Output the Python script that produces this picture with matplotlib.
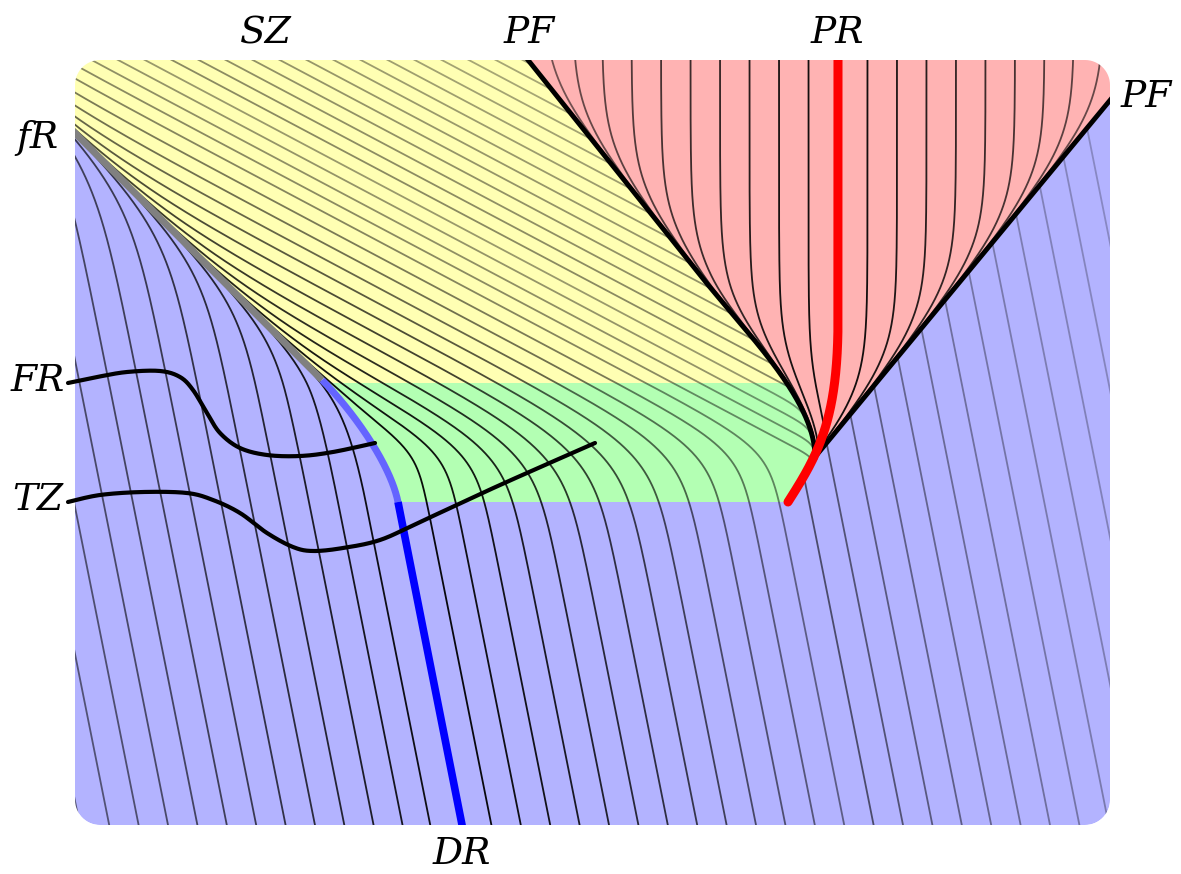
import numpy as np
import matplotlib
matplotlib.use("Agg")
import matplotlib.pyplot as plt
from matplotlib.patches import Polygon, PathPatch
from matplotlib.path import Path

# canvas is laid out in pixel units, y pointing down
W_PX, H_PX = 1181, 874
BOX = (75, 60, 1110, 825)          # left, top, right, bottom of the rounded panel
BOX_RADIUS = 25

# separatrix fR -> DR
FR_SEG = [(60, 118), (322, 380)]
DR_BEND = [(322, 380), (350, 408), (390, 462), (398, 502)]
DR_SEG = [(398, 502), (466, 845)]

# PF (left branch bends into the cusp) and right branch
PF_SEG = [(528, 60), (700, 275)]
PF_BEND = [(700, 275), (748, 335), (815, 400), (815, 457)]
PF_RIGHT = [(815, 457), (1140, 64)]

# PR curve
PR_SEG = [(838, 40), (838, 320)]
PR_BEND = [(838, 320), (838, 420), (818, 455), (788, 502)]

GREEN_Y = (383, 502)

FR_CURVE = [(68, 383), (97, 377), (127, 372), (160, 371), (180, 377), (193, 390),
            (207, 413), (220, 433), (240, 448), (267, 455), (300, 456), (333, 452),
            (375, 443)]
TZ_CURVE = [(68, 502), (100, 495), (143, 492), (187, 493), (213, 500), (240, 513),
            (267, 533), (293, 547), (313, 551), (343, 548), (380, 540), (420, 522),
            (500, 485), (595, 443)]

LABELS = [("SZ", 266, 33), ("PF", 529, 33), ("PR", 837, 33), ("PF", 1146, 97),
          ("fR", 37, 138), ("FR", 38, 381), ("TZ", 38, 500), ("DR", 462, 854)]

# characteristic lines
DRIFT = 0.2                 # dx/dy of the straight lower lines
YELLOW_DXDY = 1 / 0.53      # dx/dy of the lines in SZ
SOFT_SEP = 26
SOFT_RED = 22

LEFT_BOTTOM = [432.6, 403.2, 373.8, 344.4, 315.0, 285.6, 256.2, 226.8, 197.4, 168.0,
               138.6, 109.2, 79.8]
LEFT_ALPHA = [0.92, 0.88, 0.84, 0.8, 0.76, 0.72, 0.68, 0.65, 0.62, 0.59, 0.56, 0.54, 0.52]
LEFT_ROUND = [16, 18, 20, 22, 24, 26, 28, 30, 30, 30, 30, 30, 30]

TURN_BOTTOM = [491.4, 520.8, 550.2, 579.6, 609.0, 638.4, 667.8, 697.2, 726.6, 756.0,
               785.4, 814.8, 844.2]
TURN_Y = [448, 448, 448, 448, 448, 448, 448, 448, 448, 448, 448, 448, 448]
TURN_ROUND = [20, 25, 30, 35, 38, 40, 40, 40, 38, 35, 32, 28, 25]
TURN_ALPHA = [0.95, 0.92, 0.9, 0.86, 0.82, 0.78, 0.74, 0.7, 0.65, 0.6, 0.56, 0.52, 0.48]

HUG_X385 = [677, 704, 731, 758]
HUG_ALPHA = [0.46, 0.44, 0.42, 0.4]

TOP_X385 = [785, 812, 839, 866, 893, 920, 947, 974, 1001, 1028, 1055, 1082, 1109, 1136]
TOP_ALPHA = [0.46, 0.45, 0.44, 0.43, 0.42, 0.41, 0.4, 0.39, 0.38, 0.37, 0.36, 0.35, 0.35, 0.35]

RIGHT_BOTTOM = [873.6, 903.0, 932.4, 961.8, 991.2, 1020.6, 1050.0, 1079.4, 1108.8,
                1138.2, 1167.6, 1197.0, 1226.4, 1255.8]
RIGHT_ALPHA = [0.58, 0.54, 0.5, 0.47, 0.44, 0.41, 0.38, 0.35, 0.32, 0.3, 0.28, 0.26,
               0.24, 0.22]

RED_LEFT = [543.0, 572.5, 602.0, 631.5, 661.0, 690.5, 720.0, 749.5, 779.0, 808.5]
RED_LEFT_ALPHA = [0.55, 0.6, 0.64, 0.68, 0.72, 0.76, 0.8, 0.85, 0.9, 0.92]
RED_RIGHT = [867.5, 897.0, 926.5, 956.0, 985.5, 1015.0, 1044.5, 1074.0, 1103.5]
RED_RIGHT_ALPHA = [0.92, 0.88, 0.84, 0.8, 0.76, 0.72, 0.68, 0.64, 0.6]

YELLOW = "#ffffb3"
GREEN = "#b3ffb3"
RED = "#ffb3b3"
BLUE = "#b3b3ff"


def cubic(p, n=200):
    p = np.asarray(p, float)
    t = np.linspace(0, 1, n)[:, None]
    return (1 - t) ** 3 * p[0] + 3 * (1 - t) ** 2 * t * p[1] + 3 * (1 - t) * t ** 2 * p[2] + t ** 3 * p[3]


def segment(a, b, n=100):
    t = np.linspace(0, 1, n)[:, None]
    return (1 - t) * np.asarray(a, float) + t * np.asarray(b, float)


def catmull(pts, n=24):
    p = np.asarray(pts, float)
    p = np.vstack([p[0], p, p[-1]])
    out = []
    t = np.linspace(0, 1, n, endpoint=False)[:, None]
    for i in range(1, len(p) - 2):
        p0, p1, p2, p3 = p[i - 1], p[i], p[i + 1], p[i + 2]
        out.append(0.5 * (2 * p1 + (-p0 + p2) * t + (2 * p0 - 5 * p1 + 4 * p2 - p3) * t ** 2
                          + (-p0 + 3 * p1 - 3 * p2 + p3) * t ** 3))
    out.append(p[-2][None])
    return np.vstack(out)


def softmin(a, b, r):
    return -r * np.logaddexp(-a / r, -b / r)


def softmax(a, b, r):
    return r * np.logaddexp(a / r, b / r)


def rounded_rect(x0, y0, x1, y1, r, n=16):
    pts = []
    for cx, cy, a0 in [(x0 + r, y0 + r, 180), (x1 - r, y0 + r, 270),
                       (x1 - r, y1 - r, 0), (x0 + r, y1 - r, 90)]:
        a = np.radians(np.linspace(a0, a0 + 90, n))
        pts += list(zip(cx + r * np.cos(a), cy + r * np.sin(a)))
    return np.array(pts)


y = np.linspace(0, H_PX, 1749)

# separatrix S(y)
fr_y = np.linspace(0, 380, 200)
sep = np.vstack([np.column_stack([fr_y - 58, fr_y]), cubic(DR_BEND)[1:],
                 segment(DR_SEG[0], (398 + 64 / 323 * (H_PX - 502), H_PX))[1:]])
S = np.interp(y, sep[:, 1], sep[:, 0])

# left PF branch PFL(y)
pf_y = np.linspace(0, 275, 200)
pfl = np.vstack([np.column_stack([528 + 0.8 * (pf_y - 60), pf_y]), cubic(PF_BEND)[1:],
                 segment((815, 457), (815, H_PX))[1:]])
PFL = np.interp(y, pfl[:, 1], pfl[:, 0])
pfr_slope = (PF_RIGHT[1][0] - PF_RIGHT[0][0]) / (PF_RIGHT[1][1] - PF_RIGHT[0][1])
PFR = 815 + (y - 457) * pfr_slope

pr = np.vstack([segment(*PR_SEG), cubic(PR_BEND)[1:]])
WALL = np.where(y <= 457, PFL, np.interp(y, pr[:, 1], pr[:, 0]))

fig = plt.figure(figsize=(W_PX / 100, H_PX / 100), dpi=100)
ax = fig.add_axes([0, 0, 1, 1])
ax.set_xlim(0, W_PX)
ax.set_ylim(H_PX, 0)
ax.axis("off")

box = rounded_rect(*BOX, BOX_RADIUS)
ax.add_patch(Polygon(box, closed=True, facecolor=BLUE, edgecolor="none", zorder=1))

# regions
top_cut = y <= GREEN_Y[0]
yellow_poly = np.vstack([np.column_stack([S[top_cut], y[top_cut]]),
                         np.column_stack([PFL[top_cut][::-1], y[top_cut][::-1]])])
ax.add_patch(Polygon(yellow_poly, closed=True, facecolor=YELLOW, edgecolor="none", zorder=1.1))

g_band = (y >= GREEN_Y[0]) & (y <= GREEN_Y[1])
green_poly = np.vstack([np.column_stack([S[g_band], y[g_band]]),
                        np.column_stack([WALL[g_band][::-1], y[g_band][::-1]])])
ax.add_patch(Polygon(green_poly, closed=True, facecolor=GREEN, edgecolor="none", zorder=1.1))

r_band = y <= 457
red_poly = np.vstack([np.column_stack([PFL[r_band], y[r_band]]),
                      np.column_stack([PFR[r_band][::-1], y[r_band][::-1]])])
red_patch = Polygon(red_poly, closed=True, facecolor=RED, edgecolor="none", zorder=1.1)
ax.add_patch(red_patch)

LW = 1.3
# left of DR
for xb, a, r in zip(LEFT_BOTTOM, LEFT_ALPHA, LEFT_ROUND):
    F = xb - DRIFT * (825 - y)
    ax.plot(softmin(S, F, r), y, color="k", alpha=a, lw=LW, zorder=3)

# lines through SZ that turn in the green zone
for xb, yk, r, a in zip(TURN_BOTTOM, TURN_Y, TURN_ROUND, TURN_ALPHA):
    F = xb - DRIFT * (825 - y)
    xk = xb - DRIFT * (825 - yk)
    A = xk + (y - yk) * YELLOW_DXDY
    x = softmin(softmax(S, A, SOFT_SEP), F, r)
    ax.plot(x, y, color="k", alpha=a, lw=LW, zorder=3)

# lines squeezed against PF
for x385, a in zip(HUG_X385, HUG_ALPHA):
    A = x385 + (y - 385) * YELLOW_DXDY
    x = softmin(softmax(S, A, SOFT_SEP), WALL, 6)
    keep = y <= GREEN_Y[1]
    ax.plot(x[keep], y[keep], color="k", alpha=a, lw=LW, zorder=3)

# lines ending on PF
for x385, a in zip(TOP_X385, TOP_ALPHA):
    x = softmax(S, x385 + (y - 385) * YELLOW_DXDY, SOFT_SEP)
    bad = x > PFL
    end = np.argmax(bad) if bad.any() else len(y)
    ax.plot(x[:end], y[:end], color="k", alpha=a, lw=LW, zorder=3)

# lines leaving the right PF branch
for xb, a in zip(RIGHT_BOTTOM, RIGHT_ALPHA):
    x = xb - DRIFT * (825 - y)
    start = np.argmax(x >= PFR)
    ax.plot(x[start:], y[start:], color="k", alpha=a, lw=LW, zorder=3)

# PR fan
for xk, a in zip(RED_LEFT, RED_LEFT_ALPHA):
    ln, = ax.plot(softmax(np.full_like(y, xk), PFL, SOFT_RED), y, color="k", alpha=a,
                  lw=LW, zorder=3)
    ln.set_clip_path(red_patch)
for xk, a in zip(RED_RIGHT, RED_RIGHT_ALPHA):
    ln, = ax.plot(softmin(np.full_like(y, xk), PFR, SOFT_RED), y, color="k", alpha=a,
                  lw=LW, zorder=3)
    ln.set_clip_path(red_patch)

# heavy curves
pf_draw = y <= 457
ax.plot(PFL[pf_draw], y[pf_draw], color="k", lw=3.5, zorder=4)
ax.plot([p[0] for p in PF_RIGHT], [p[1] for p in PF_RIGHT], color="k", lw=3.5, zorder=4)
ax.plot([p[0] for p in FR_SEG], [p[1] for p in FR_SEG], color="#808080", lw=5, zorder=5,
        solid_capstyle="butt")
bend = cubic(DR_BEND)
ax.plot(bend[:, 0], bend[:, 1], color="#6464ff", lw=5, zorder=5, solid_capstyle="butt")
ax.plot([p[0] for p in DR_SEG], [p[1] for p in DR_SEG], color="#0000ff", lw=5.5, zorder=5,
        solid_capstyle="butt")
ax.plot(pr[:, 0], pr[:, 1], color="red", lw=6.5, zorder=6, solid_capstyle="round")

# white frame outside the rounded panel
outer = np.array([[-10, -10], [-10, H_PX + 10], [W_PX + 10, H_PX + 10], [W_PX + 10, -10]])
verts = np.vstack([outer, outer[:1], box, box[:1]])
codes = ([Path.MOVETO] + [Path.LINETO] * 3 + [Path.CLOSEPOLY]
         + [Path.MOVETO] + [Path.LINETO] * (len(box) - 1) + [Path.CLOSEPOLY])
ax.add_patch(PathPatch(Path(verts, codes), facecolor="white", edgecolor="none", zorder=7))

for pts in (FR_CURVE, TZ_CURVE):
    c = catmull(pts)
    ax.plot(c[:, 0], c[:, 1], color="k", lw=3, zorder=8, solid_capstyle="round")

for text, tx, ty in LABELS:
    ax.text(tx, ty, text, fontsize=27, fontfamily="DejaVu Serif", fontstyle="italic",
            ha="center", va="center", zorder=9)

fig.savefig("out.png", dpi=100)
